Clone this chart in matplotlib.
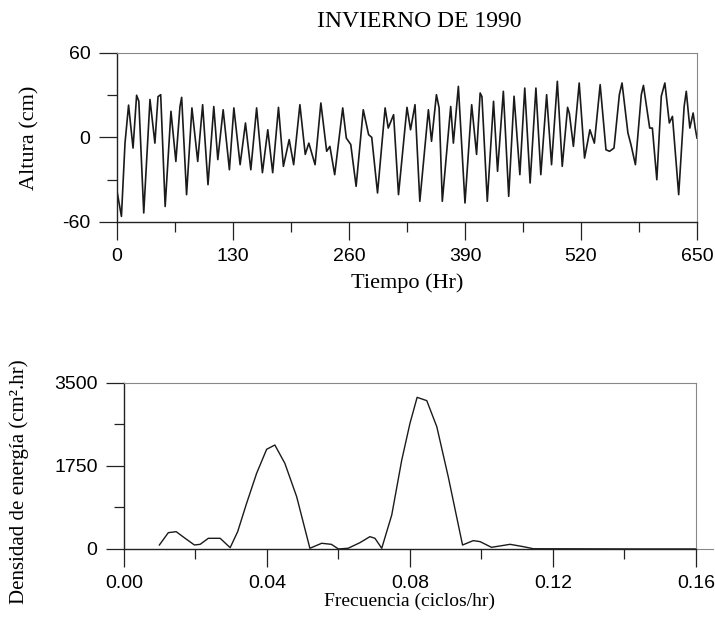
import numpy as np
import matplotlib
matplotlib.use("Agg")
from matplotlib import pyplot as plt
from matplotlib.ticker import MultipleLocator

# Nivel del mar, invierno 1990 (hora, altura en cm)
tiempo = [0, 5, 9, 13, 18, 22, 24.5, 30, 37, 42.5, 46, 49, 54, 60.5, 66, 70.6, 72.5,
          78, 84, 90.5, 96, 102, 108.5, 113, 119, 126, 131, 138, 144, 150, 156.5,
          163, 169, 174.5, 181, 186.5, 193, 198, 205, 211, 215, 222, 228.5, 235,
          238.6, 244, 253, 257, 262, 268, 276, 282, 285.5, 292, 300.5, 304, 310,
          315.5, 325, 329, 334, 339.4, 349, 352.5, 358, 361, 364.6, 374, 377,
          382.6, 390, 397.5, 403, 407, 409, 415, 422, 426.5, 433, 439, 445, 451.5,
          457, 463, 469.5, 475, 481.5, 487, 493.5, 499, 505, 507, 511.5, 518, 524,
          527.6, 530, 535, 541.5, 548, 552, 557, 563, 566, 572.6, 576, 581, 587.6,
          590, 597, 600, 605, 610, 614, 619, 622.5, 629.5, 635.6, 638, 642, 645.7,
          648, 650]
altura = [-38, -56, -4, 23, -7.5, 30, 25.7, -53.6, 27, -4, 29, 30.4, -49, 18.6,
          -17, 22, 28.5, -40.6, 21, -17, 23.3, -33.5, 22, -15.7, 19.7, -22.9, 21,
          -19.3, 10.3, -22.9, 21, -25, 5.5, -25, 21.4, -20.5, -1.5, -19.3, 23.3,
          -12, -4, -19.3, 24.5, -9.8, -6.3, -26.4, 21, -0.4, -5, -34.7, 19.7, 2,
          0.1, -39.4, 21, 6.7, 16.2, -40.6, 21.4, 5.5, 23.3, -45.3, 19.7, -2.7,
          30.4, 21, -45.3, 22, -4, 36.3, -46.5, 23.3, -12, 31.6, 29, -45.3, 25.7,
          -24, 32.8, -41.8, 29.3, -26.4, 35.1, -32.3, 35.1, -26.4, 30.4, -19.3,
          39.9, -20.5, 21.4, 17, -6.3, 38.7, -14.6, -2.7, 5.5, -4, 37.5, -8.7,
          -9.8, -7.5, 30.4, 38.7, 3.2, -5, -19.3, 30.4, 37, 6.7, 6.7, -30, 29.3,
          38.7, 10.3, 15, -40.6, 22, 32.8, 6.7, 17.4, 6.7, -0.4]

# Espectro de energia (ciclos/hr, cm^2.hr)
frecuencia = [0.0099, 0.0124, 0.0146, 0.0171, 0.0197, 0.0213, 0.0236, 0.0269,
              0.0297, 0.0318, 0.0343, 0.0371, 0.0399, 0.0422, 0.0450, 0.0483,
              0.0520, 0.0553, 0.0580, 0.0600, 0.0627, 0.0660, 0.0688, 0.0702,
              0.0721, 0.0749, 0.0777, 0.0800, 0.0820, 0.0847, 0.0875, 0.0907,
              0.0947, 0.0977, 0.0996, 0.1028, 0.1080, 0.1117, 0.1145, 0.1280,
              0.1450, 0.1600]
densidad = [84, 344, 365, 225, 84, 98, 225, 225, 28, 365, 963, 1595, 2101, 2192,
            1806, 1103, 15, 120, 98, 0, 15, 133, 260, 225, 15, 717, 1876, 2650,
            3197, 3127, 2578, 1524, 84, 176, 155, 35, 98, 49, 5, 3, 0, 0]

serif = ["Liberation Serif", "DejaVu Serif"]
sans = ["Liberation Sans", "DejaVu Sans"]
plt.rcParams['font.family'] = sans
plt.rcParams['axes.unicode_minus'] = False

fig = plt.figure(figsize=(7.15, 6.22), dpi=100)


def estilo(ax):
    for lado in ["top", "right"]:
        ax.spines[lado].set_color("#888888")
        ax.spines[lado].set_linewidth(0.8)
    for lado in ["left", "bottom"]:
        ax.spines[lado].set_color("#222222")
        ax.spines[lado].set_linewidth(1.0)
    ax.tick_params(which="major", length=13, width=0.9, color="#222222",
                   labelsize=14, pad=6)
    ax.tick_params(which="minor", length=7, width=0.9, color="#222222")


# serie de tiempo
ax1 = fig.add_axes([0.1636, 0.6431, 0.8112, 0.2717])
ax1.plot(tiempo, altura, color="#1a1a1a", linewidth=1.2)
ax1.set_xlim(0, 650)
ax1.set_ylim(-60, 60)
ax1.set_xticks([0, 130, 260, 390, 520, 650])
ax1.set_yticks([-60, 0, 60])
ax1.xaxis.set_minor_locator(MultipleLocator(65))
ax1.yaxis.set_minor_locator(MultipleLocator(30))
estilo(ax1)
ax1.set_xlabel("Tiempo (Hr)", family=serif, fontsize=16, labelpad=6)
fig.text(0.042, 0.779, "Altura (cm)", family=serif, fontsize=16,
         rotation=90, ha="center", va="center")
fig.text(0.587, 0.965, "INVIERNO DE 1990", family=serif, fontsize=17,
         ha="center", va="center")

# espectro
ax2 = fig.add_axes([0.1734, 0.1174, 0.8, 0.2669])
ax2.plot(frecuencia, densidad, color="#1a1a1a", linewidth=1.0)
ax2.set_xlim(0, 0.16)
ax2.set_ylim(0, 3500)
ax2.set_xticks([0.0, 0.04, 0.08, 0.12, 0.16])
ax2.set_xticklabels(["0.00", "0.04", "0.08", "0.12", "0.16"])
ax2.set_yticks([0, 1750, 3500])
ax2.xaxis.set_minor_locator(MultipleLocator(0.02))
ax2.yaxis.set_minor_locator(MultipleLocator(875))
estilo(ax2)
ax2.plot([1.0, 1.03], [0, 0], transform=ax2.transAxes, color="#888888",
         linewidth=0.8, clip_on=False)
ax2.set_xlabel("Frecuencia (ciclos/hr)", family=serif, fontsize=14, labelpad=0)
fig.text(0.027, 0.225, "Densidad de energía (cm².hr)", family=serif,
         fontsize=15, rotation=90, ha="center", va="center")

fig.savefig("out.png", dpi=100)
